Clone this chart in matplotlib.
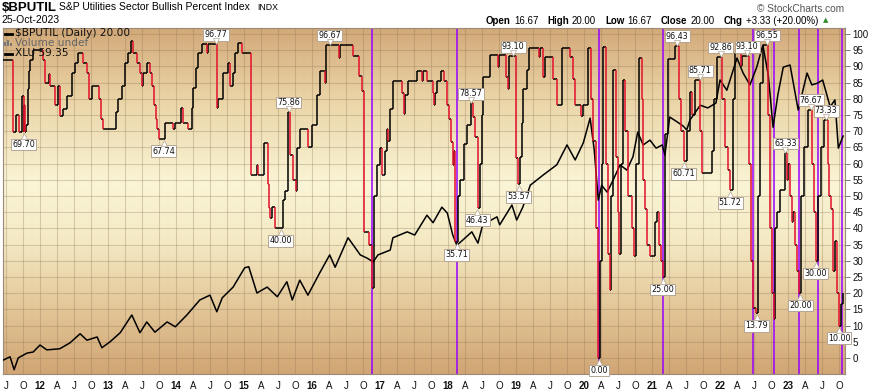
import numpy as np
import matplotlib.pyplot as plt
from matplotlib.collections import LineCollection
from matplotlib.colors import LinearSegmentedColormap
from matplotlib.transforms import offset_copy
from matplotlib.lines import Line2D
from matplotlib.patches import Rectangle

W, H = 873, 392

# $BPUTIL step series (decimal year, value)
bp_x = [2011.46, 2011.60, 2011.65, 2011.69, 2011.74, 2011.76, 2011.77, 2011.78, 2011.79, 2011.82,
        2011.84, 2011.85, 2011.90, 2012.04, 2012.07, 2012.13, 2012.15, 2012.22, 2012.26, 2012.29,
        2012.34, 2012.40, 2012.47, 2012.51, 2012.56, 2012.63, 2012.69, 2012.72, 2012.76, 2012.87,
        2012.90, 2012.93, 2013.12, 2013.15, 2013.21, 2013.25, 2013.29, 2013.34, 2013.37, 2013.43,
        2013.47, 2013.50, 2013.51, 2013.57, 2013.62, 2013.65, 2013.68, 2013.71, 2013.72, 2013.75,
        2013.84, 2013.96, 2013.99, 2014.07, 2014.10, 2014.18, 2014.24, 2014.25, 2014.29, 2014.32,
        2014.38, 2014.46, 2014.47, 2014.60, 2014.62, 2014.69, 2014.76, 2014.79, 2014.84, 2014.87,
        2014.91, 2014.97, 2015.10, 2015.19, 2015.21, 2015.29, 2015.35, 2015.37, 2015.38, 2015.41,
        2015.46, 2015.57, 2015.60, 2015.65, 2015.68, 2015.72, 2015.76, 2015.78, 2015.82, 2015.94,
        2016.00, 2016.07, 2016.12, 2016.19, 2016.21, 2016.40, 2016.41, 2016.60, 2016.69, 2016.74,
        2016.76, 2016.84, 2016.88, 2016.91, 2016.96, 2017.00, 2017.03, 2017.07, 2017.10, 2017.12,
        2017.15, 2017.19, 2017.32, 2017.35, 2017.37, 2017.41, 2017.54, 2017.62, 2017.63, 2017.69,
        2017.78, 2017.79, 2017.81, 2017.84, 2017.90, 2017.94, 2017.99, 2018.01, 2018.04, 2018.07,
        2018.09, 2018.11, 2018.15, 2018.18, 2018.24, 2018.28, 2018.34, 2018.37, 2018.40, 2018.44,
        2018.47, 2018.50, 2018.51, 2018.62, 2018.74, 2018.75, 2018.85, 2018.88, 2018.90, 2019.00,
        2019.03, 2019.06, 2019.09, 2019.10, 2019.16, 2019.19, 2019.34, 2019.35, 2019.40, 2019.43,
        2019.54, 2019.60, 2019.68, 2019.79, 2019.84, 2019.87, 2019.96, 2019.99, 2020.06, 2020.10,
        2020.13, 2020.18, 2020.21, 2020.24, 2020.26, 2020.28, 2020.32, 2020.35, 2020.38, 2020.40,
        2020.43, 2020.47, 2020.50, 2020.51, 2020.54, 2020.57, 2020.60, 2020.65, 2020.71, 2020.74,
        2020.76, 2020.81, 2020.85, 2020.87, 2020.90, 2020.93, 2020.97, 2021.04, 2021.07, 2021.10,
        2021.13, 2021.16, 2021.19, 2021.24, 2021.34, 2021.40, 2021.43, 2021.47, 2021.51, 2021.56,
        2021.59, 2021.63, 2021.71, 2021.74, 2021.88, 2021.91, 2021.96, 2022.03, 2022.07, 2022.12,
        2022.15, 2022.19, 2022.22, 2022.31, 2022.32, 2022.43, 2022.46, 2022.49, 2022.53, 2022.56,
        2022.59, 2022.63, 2022.71, 2022.74, 2022.76, 2022.79, 2022.81, 2022.84, 2022.88, 2022.96,
        2022.99, 2023.00, 2023.03, 2023.06, 2023.07, 2023.10, 2023.13, 2023.16, 2023.19, 2023.24,
        2023.29, 2023.35, 2023.38, 2023.41, 2023.44, 2023.49, 2023.53, 2023.59, 2023.60, 2023.63,
        2023.66, 2023.69, 2023.72, 2023.75, 2023.78, 2023.81]
bp_v = [92.0, 69.7, 75.0, 69.7, 81.0, 69.7, 78.0, 69.7, 72.0, 83.0,
        88.5, 92.0, 95.0, 92.0, 85.0, 87.5, 83.9, 78.2, 83.9, 74.7,
        77.0, 80.8, 88.0, 91.1, 94.1, 91.1, 88.0, 80.0, 83.9, 80.0,
        73.8, 70.7, 75.9, 80.0, 83.9, 91.1, 94.1, 97.7, 94.1, 91.1,
        88.0, 83.9, 88.0, 91.1, 88.0, 83.9, 78.2, 73.8, 70.7, 67.74,
        72.5, 70.7, 72.5, 77.2, 72.5, 70.7, 77.2, 83.4, 89.5, 94.1,
        96.77, 94.1, 96.77, 77.2, 80.0, 88.0, 91.1, 83.9, 88.0, 94.1,
        97.2, 94.1, 56.6, 59.7, 56.6, 66.4, 53.6, 46.3, 43.2, 46.6,
        40.0, 48.8, 51.5, 75.86, 62.8, 55.0, 51.5, 64.8, 70.7, 65.1,
        72.0, 81.3, 88.5, 85.0, 96.67, 92.5, 96.67, 93.1, 86.9, 82.4,
        38.9, 35.0, 21.5, 50.0, 59.7, 64.8, 56.6, 63.8, 70.7, 67.0,
        76.9, 85.6, 81.9, 75.2, 81.3, 85.6, 88.5, 85.6, 88.5, 85.6,
        81.9, 78.2, 81.9, 85.6, 88.5, 85.6, 78.2, 73.9, 66.7, 59.7,
        63.8, 35.71, 50.0, 55.0, 66.0, 72.0, 78.57, 74.4, 68.2, 46.43,
        60.0, 75.0, 86.6, 93.5, 89.7, 93.5, 86.6, 83.0, 93.1, 61.7,
        53.57, 62.0, 72.5, 83.0, 89.0, 95.8, 93.0, 95.8, 86.6, 93.0,
        86.2, 78.2, 95.8, 93.0, 86.2, 78.2, 74.6, 78.2, 95.8, 80.0,
        67.0, 40.0, 0.0, 30.0, 60.0, 96.0, 60.0, 32.0, 21.0, 50.0,
        88.9, 62.0, 45.0, 32.0, 60.0, 85.8, 70.0, 50.0, 40.0, 31.5,
        60.0, 92.5, 80.0, 55.0, 46.0, 35.0, 31.5, 42.0, 45.0, 35.0,
        30.0, 25.0, 69.0, 92.4, 96.43, 80.0, 70.0, 60.71, 70.0, 82.2,
        75.0, 85.71, 70.0, 57.0, 64.0, 80.0, 92.86, 80.0, 65.0, 58.0,
        51.72, 80.0, 94.0, 90.0, 93.1, 60.0, 30.0, 15.5, 13.79, 50.0,
        85.0, 96.55, 75.0, 40.0, 20.0, 12.0, 40.0, 45.0, 52.0, 63.33,
        55.0, 60.0, 50.0, 42.0, 45.0, 35.0, 27.0, 20.0, 50.0, 65.0,
        76.67, 60.0, 45.0, 30.0, 50.0, 65.0, 73.33, 60.0, 50.0, 46.0,
        27.0, 36.0, 20.0, 10.0, 16.67, 20.0]

# XLU (own hidden scale)
xlu_x = [2011.46, 2011.56, 2011.62, 2011.68, 2011.81, 2011.90, 2012.00, 2012.10, 2012.29, 2012.44,
         2012.59, 2012.69, 2012.84, 2012.91, 2013.03, 2013.18, 2013.35, 2013.47, 2013.57, 2013.69,
         2013.87, 2013.99, 2014.16, 2014.35, 2014.50, 2014.60, 2014.68, 2014.84, 2015.01, 2015.07,
         2015.19, 2015.34, 2015.49, 2015.63, 2015.71, 2015.82, 2015.94, 2016.12, 2016.26, 2016.34,
         2016.53, 2016.71, 2016.81, 2016.90, 2016.97, 2017.15, 2017.19, 2017.40, 2017.51, 2017.69,
         2017.78, 2017.91, 2017.99, 2018.07, 2018.13, 2018.22, 2018.35, 2018.44, 2018.51, 2018.72,
         2018.76, 2018.94, 2019.01, 2019.10, 2019.21, 2019.40, 2019.60, 2019.75, 2019.87, 2019.99,
         2020.09, 2020.15, 2020.21, 2020.26, 2020.34, 2020.43, 2020.53, 2020.63, 2020.72, 2020.79,
         2020.87, 2020.97, 2021.06, 2021.15, 2021.19, 2021.26, 2021.37, 2021.46, 2021.51, 2021.56,
         2021.71, 2021.82, 2021.94, 2022.00, 2022.10, 2022.25, 2022.34, 2022.44, 2022.54, 2022.63,
         2022.71, 2022.78, 2022.85, 2022.93, 2023.03, 2023.15, 2023.28, 2023.35, 2023.43, 2023.51,
         2023.62, 2023.69, 2023.74, 2023.81]
xlu_v = [17.6, 18.2, 15.8, 18.0, 18.9, 19.1, 20.4, 19.5, 19.7, 20.8,
         22.5, 21.3, 21.9, 19.9, 21.0, 22.7, 26.0, 22.7, 24.7, 22.8,
         24.7, 23.8, 26.0, 28.8, 29.7, 26.6, 29.2, 31.2, 34.8, 35.0,
         30.1, 31.2, 29.4, 32.2, 28.8, 32.5, 29.7, 34.0, 37.2, 34.9,
         40.4, 37.2, 36.6, 35.9, 37.2, 38.1, 40.4, 41.5, 40.9, 44.6,
         43.2, 46.1, 45.0, 40.9, 39.0, 40.0, 41.5, 39.4, 42.8, 44.3,
         42.8, 46.5, 43.7, 46.1, 50.2, 52.1, 54.0, 57.7, 54.9, 58.1,
         62.7, 56.8, 47.4, 50.2, 48.9, 51.2, 54.0, 53.0, 55.5, 60.1,
         57.7, 58.6, 57.1, 57.7, 55.8, 62.9, 62.0, 61.2, 60.5, 62.4,
         65.1, 64.6, 65.5, 69.8, 67.9, 73.9, 71.1, 68.9, 72.2, 76.3,
         70.7, 61.0, 67.0, 72.2, 72.6, 64.2, 71.1, 68.9, 69.2, 69.8,
         64.8, 66.1, 57.1, 59.35]

# value labels on the BPUTIL line
ann_x = [2011.76, 2013.82, 2014.59, 2015.54, 2015.66, 2016.26, 2018.13, 2018.34, 2018.43, 2018.96,
         2019.04, 2020.22, 2021.16, 2021.37, 2021.47, 2021.71, 2022.01, 2022.15, 2022.40, 2022.54,
         2022.69, 2022.96, 2023.18, 2023.34, 2023.41, 2023.56, 2023.75]
ann_v = [69.70, 67.74, 96.77, 40.00, 75.86, 96.67, 35.71, 78.57, 46.43, 93.10,
         53.57, 0.00, 25.00, 96.43, 60.71, 85.71, 92.86, 51.72, 93.10, 13.79,
         96.55, 63.33, 20.00, 76.67, 30.00, 73.33, 10.00]
ann_up = [0, 0, 1, 0, 1, 1, 0, 1, 0, 1,
          0, 0, 0, 1, 0, 1, 1, 0, 1, 0,
          1, 1, 0, 1, 0, 1, 0]

# purple markers
vlines = [2016.88, 2018.13, 2020.22, 2021.16, 2022.49, 2022.79, 2023.16, 2023.44, 2023.79]

# header numbers
q_open, q_high, q_low, q_close = 16.67, 20.00, 16.67, 20.00
q_chg, q_chg_pct = 3.33, 20.00
last_bp, last_xlu = 20.00, 59.35

XMIN, XMAX = 2011.456, 2023.838
YMIN, YMAX = -4.94, 101.85

fig = plt.figure(figsize=(W / 100, H / 100), dpi=100)
ax = fig.add_axes([3 / W, 18 / H, 842 / W, 346 / H])
ax2 = ax.twinx()   # XLU, hidden scale
ax3 = ax.twinx()   # BPUTIL lines on top
ax.set_xlim(XMIN, XMAX)
ax.set_ylim(YMIN, YMAX)

# tan gradient background
bg = LinearSegmentedColormap.from_list('bg', [
    (0.0, '#d3a979'), (0.2, '#ead4a6'), (0.45, '#faf5d6'),
    (0.62, '#f4e9c3'), (0.82, '#e2c596'), (1.0, '#d1a574')])
ax.imshow(np.linspace(0, 1, 400).reshape(-1, 1), cmap=bg, aspect='auto',
          extent=[XMIN, XMAX, YMIN, YMAX], origin='upper', zorder=0)

# ticks and grid
qpos = np.arange(2011.5, 2023.8, 0.25)
qlab = []
for q in qpos:
    f = round((q % 1) * 4)
    qlab.append([str(int(q))[2:], 'A', 'J', 'O'][f])
ax.set_xticks(qpos)
ax.set_xticklabels(qlab)
for t in ax.get_xticklabels():
    t.set_fontweight('bold' if t.get_text().isdigit() else 'normal')
ax.tick_params(axis='x', length=0, pad=5, labelsize=7, labelcolor='#111')
ax.set_yticks(np.arange(0, 101, 5))
ax.yaxis.set_ticks_position('right')
ax.yaxis.set_label_position('right')
ax.tick_params(axis='y', which='both', left=False, labelleft=False, right=True, labelright=True,
               length=3.5, width=0.7, color='#777', pad=2, labelsize=7, labelcolor='#111')
for t in ax.get_xticklabels() + ax.get_yticklabels():
    t.set_family('Liberation Sans')
ax.grid(True, color='#8c7355', alpha=0.3, lw=0.8, zorder=1)
for s in ax.spines.values():
    s.set_color('#9a8a78')
    s.set_linewidth(0.8)

for xv in vlines:
    ax.axvline(xv, color='#9900ff', lw=1.1, zorder=2)

ax2.set_ylim(15.0, 79.5)
ax2.set_axis_off()
ax2.plot(xlu_x, xlu_v, color='black', lw=1.1, zorder=2)

# BPUTIL step line, red when falling
blk, red = [], []
for i in range(len(bp_x) - 1):
    blk.append([(bp_x[i], bp_v[i]), (bp_x[i + 1], bp_v[i])])
    seg = [(bp_x[i + 1], bp_v[i]), (bp_x[i + 1], bp_v[i + 1])]
    (red if bp_v[i + 1] < bp_v[i] else blk).append(seg)
ax3.set_ylim(YMIN, YMAX)
ax3.set_axis_off()
ax3.add_collection(LineCollection(blk, colors='black', linewidths=1.1, zorder=3))
ax3.add_collection(LineCollection(red, colors='#e3102c', linewidths=1.1, zorder=4))

for xv, v, up in zip(ann_x, ann_v, ann_up):
    dy_box = 9.5 if up else -12.5
    dy_tri = 3.0 if up else -4.0
    ax3.annotate(f'{v:.2f}', (xv, v), xytext=(0, dy_box * 0.72), textcoords='offset points',
                 ha='center', va='center', fontsize=5.8, color='#111',
                 bbox=dict(boxstyle='square,pad=0.15', fc='white', ec='#b5a594', lw=0.7),
                 zorder=6, annotation_clip=False)
    tr = offset_copy(ax3.transData, fig=fig, x=0, y=dy_tri, units='dots')
    ax3.plot([xv], [v], marker='v' if up else '^', ms=4.3, mfc='white', mec='#b5a594',
             mew=0.5, transform=tr, zorder=7, clip_on=False)


def fx(x):
    return x / W


def fy(y):
    return 1 - y / H


# legend inside the chart
fig.add_artist(Line2D([fx(5), fx(12)], [fy(33.5), fy(33.5)], color='black', lw=2))
fig.text(fx(15), fy(33.5), f'$BPUTIL (Daily) {last_bp:.2f}', fontsize=7.6, va='center', color='#111')
for bx, bh in [(4, 4), (7, 6), (10, 3)]:
    fig.add_artist(Rectangle((fx(bx), fy(46)), 2 / W, bh / H, color='#777', lw=0))
fig.text(fx(15), fy(43.5), 'Volume undef', fontsize=7.6, va='center', color='#666')
fig.add_artist(Line2D([fx(5), fx(12)], [fy(53.5), fy(53.5)], color='black', lw=2))
fig.text(fx(15), fy(53.5), f'XLU {last_xlu:.2f}', fontsize=7.6, va='center', color='#111')

# header
fig.text(fx(2), fy(11), '$BPUTIL', fontsize=9.5, fontweight='bold', family='Liberation Sans', va='baseline')
fig.text(fx(59), fy(10.5), 'S&P Utilities Sector Bullish Percent Index', fontsize=7.5,
         family='Liberation Sans', va='baseline')
fig.text(fx(257), fy(10.5), 'INDX', fontsize=6.3, family='Liberation Sans', va='baseline')
fig.text(fx(1), fy(23), '25-Oct-2023', fontsize=7.5, family='Liberation Sans', va='baseline')
fig.text(fx(757), fy(11.5), '\u00a9 StockCharts.com', fontsize=7.3, family='Liberation Sans',
         va='baseline', color='#555')

fig.canvas.draw()
rend = fig.canvas.get_renderer()
parts = [('Open', 1), (f'{q_open:.2f}', 0), ('High', 1), (f'{q_high:.2f}', 0),
         ('Low', 1), (f'{q_low:.2f}', 0), ('Close', 1), (f'{q_close:.2f}', 0),
         ('Chg', 1), (f'+{q_chg:.2f} (+{q_chg_pct:.2f}%)', 0)]
x = 486
for s, b in parts:
    t = fig.text(fx(x), fy(23.5), s, fontsize=7.0, fontweight='bold' if b else 'normal',
                 family='Liberation Sans', va='baseline')
    x += t.get_window_extent(rend).width + (3 if b else 9)
fig.text(fx(x - 4), fy(20), '\u25b2', fontsize=5, color='#2e8b2e', va='center')

fig.savefig('out.png', dpi=100)
